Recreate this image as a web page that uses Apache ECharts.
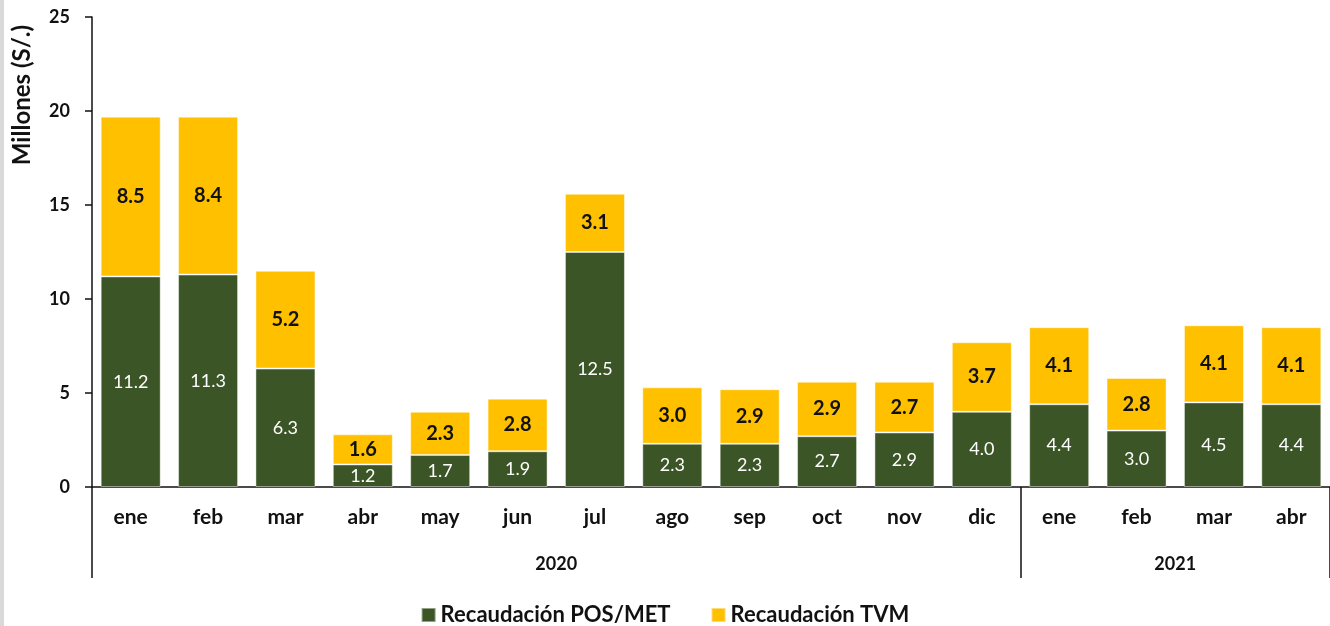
<!DOCTYPE html>
<html>
<head>
<meta charset="utf-8">
<script src="https://cdn.jsdelivr.net/npm/echarts@6/dist/echarts.min.js"></script>
<style>
  html, body { margin: 0; padding: 0; background: #fff; }
  #wrap { position: relative; width: 1330px; height: 626px; overflow: hidden; }
  #strip { position: absolute; left: 0; top: 0; width: 4px; height: 626px; background: #d9d9d9; z-index: 2; }
  #chart { position: absolute; left: 0; top: 0; width: 1330px; height: 626px; }
</style>
</head>
<body>
<div id="wrap">
  <div id="strip"></div>
  <div id="chart"></div>
</div>
<script>
var meses = ['ene', 'feb', 'mar', 'abr', 'may', 'jun', 'jul', 'ago', 'sep', 'oct', 'nov', 'dic', 'ene', 'feb', 'mar', 'abr'];
var posMet = [11.2, 11.3, 6.3, 1.2, 1.7, 1.9, 12.5, 2.3, 2.3, 2.7, 2.9, 4.0, 4.4, 3.0, 4.5, 4.4];
var tvm = [8.5, 8.4, 5.2, 1.6, 2.3, 2.8, 3.1, 3.0, 2.9, 2.9, 2.7, 3.7, 4.1, 2.8, 4.1, 4.1];
var anios = ['2020', '2021'];
var aniosCentro = [6, 14];      // centro de cada año en unidades de mes
var aniosCorte = [0, 12];       // índice del primer mes de cada año

var fuente = 'Lato, "Open Sans", sans-serif';

var chart = echarts.init(document.getElementById('chart'));

var option = {
    animation: false,
    textStyle: { fontFamily: fuente },
    grid: { left: 92, right: -16, top: 17, bottom: 139 },
    legend: {
        bottom: -5,
        left: 'center',
        itemWidth: 14,
        itemHeight: 14,
        itemGap: 40,
        icon: 'rect',
        textStyle: { fontFamily: fuente, fontWeight: 'bold', fontSize: 22, color: '#111' },
        data: ['Recaudación POS/MET', 'Recaudación TVM']
    },
    xAxis: [{
        type: 'category',
        data: meses,
        axisLine: { lineStyle: { color: '#111', width: 1.5 } },
        axisTick: {
            show: true,
            length: 91,
            lineStyle: { color: '#111', width: 1.5 },
            interval: function (index) { return aniosCorte.indexOf(index) >= 0; }
        },
        axisLabel: {
            interval: 0,
            margin: 20,
            fontFamily: fuente,
            fontWeight: 'bold',
            fontSize: 21,
            color: '#111'
        }
    }, {
        type: 'value',
        position: 'bottom',
        min: 0,
        max: 16,
        axisLine: { show: false },
        axisTick: { show: false },
        splitLine: { show: false },
        axisLabel: {
            customValues: aniosCentro,
            margin: 68,
            fontFamily: fuente,
            fontWeight: 'bold',
            fontSize: 18,
            color: '#111',
            formatter: function (v) { return anios[aniosCentro.indexOf(v)]; }
        }
    }],
    yAxis: {
        type: 'value',
        min: 0,
        max: 25,
        interval: 5,
        axisLine: { show: true, lineStyle: { color: '#111', width: 1.5 } },
        axisTick: { show: true, length: 7, lineStyle: { color: '#111', width: 1.5 } },
        splitLine: { show: false },
        axisLabel: {
            margin: 22,
            fontFamily: fuente,
            fontWeight: 'bold',
            fontSize: 18,
            color: '#111'
        }
    },
    graphic: [{
        type: 'text',
        x: 22,
        y: 95,
        rotation: Math.PI / 2,
        style: {
            text: 'Millones (S/.)',
            fontFamily: fuente,
            fontWeight: 'bold',
            fontSize: 24,
            fill: '#111',
            align: 'center',
            verticalAlign: 'middle'
        }
    }],
    series: [{
        name: 'Recaudación POS/MET',
        type: 'bar',
        stack: 'total',
        barWidth: 60,
        data: posMet,
        itemStyle: { color: '#3B5526', borderColor: 'rgba(255,255,255,0.45)', borderWidth: 1 },
        label: {
            show: true,
            position: 'inside',
            fontFamily: fuente,
            fontSize: 18,
            color: '#fff',
            formatter: function (p) { return p.value.toFixed(1); }
        }
    }, {
        name: 'Recaudación TVM',
        type: 'bar',
        stack: 'total',
        barWidth: 60,
        data: tvm,
        itemStyle: { color: '#FFC000', borderColor: 'rgba(255,255,255,0.45)', borderWidth: 1 },
        label: {
            show: true,
            position: 'inside',
            fontFamily: fuente,
            fontWeight: 'bold',
            fontSize: 20,
            color: '#111',
            formatter: function (p) { return p.value.toFixed(1); }
        }
    }]
};

chart.setOption(option);
</script>
</body>
</html>
